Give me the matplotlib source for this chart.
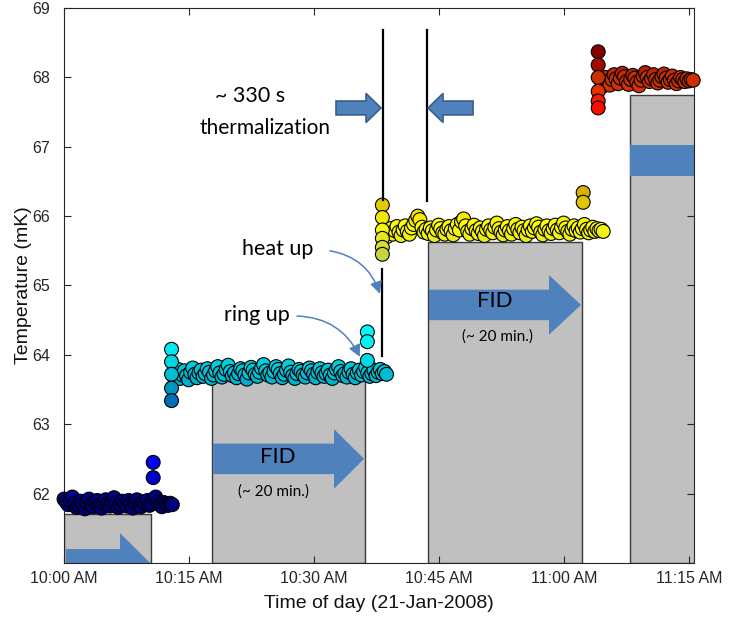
import numpy as np
import matplotlib
matplotlib.use("Agg")
import matplotlib.pyplot as plt
from matplotlib.colors import LinearSegmentedColormap
from matplotlib.patches import FancyArrow, Rectangle

# x in minutes after 10:00 AM, temperatures in mK
tick_minutes = [0, 15, 30, 45, 60, 75]
tick_labels = ['10:00 AM', '10:15 AM', '10:30 AM', '10:45 AM', '11:00 AM', '11:15 AM']
y_ticks = [62, 63, 64, 65, 66, 67, 68, 69]

# FID / waiting windows (grey blocks): start, end, top
block_start = [0.0, 17.76, 43.7, 67.9]
block_end = [10.44, 36.1, 62.2, 80.0]
block_top = [61.71, 63.67, 65.62, 67.75]

# logged temperature, one reading every 15 s
sample_step = 0.25

seg1_start = 0.0
seg1 = [61.92, 61.88, 61.84, 61.90, 61.95, 61.86, 61.80, 61.83, 61.89, 61.85,
        61.78, 61.87, 61.92, 61.84, 61.81, 61.88, 61.90, 61.83, 61.79, 61.86,
        61.91, 61.85, 61.82, 61.88, 61.94, 61.87, 61.80, 61.84, 61.89, 61.86,
        61.82, 61.90, 61.85, 61.79, 61.87, 61.91, 61.84, 61.81, 61.88, 61.85,
        61.90, 61.83, 61.86, 61.92, 61.95, 61.88, 61.84, 61.81, 61.87, 61.85,
        61.83, 61.86, 61.84]

seg2_start = 13.2
seg2 = [63.68, 63.74, 63.79, 63.66, 63.71, 63.77, 63.70, 63.64, 63.75, 63.81,
        63.72, 63.67, 63.74, 63.78, 63.69, 63.73, 63.80, 63.75, 63.66, 63.71,
        63.77, 63.83, 63.74, 63.68, 63.72, 63.79, 63.85, 63.76, 63.70, 63.74,
        63.67, 63.73, 63.80, 63.77, 63.71, 63.65, 63.74, 63.82, 63.78, 63.72,
        63.69, 63.75, 63.81, 63.86, 63.77, 63.71, 63.74, 63.68, 63.76, 63.83,
        63.79, 63.73, 63.67, 63.72, 63.78, 63.84, 63.75, 63.70, 63.66, 63.73,
        63.79, 63.76, 63.71, 63.68, 63.74, 63.81, 63.77, 63.72, 63.67, 63.75,
        63.80, 63.74, 63.69, 63.73, 63.78, 63.71, 63.66, 63.74, 63.79, 63.83,
        63.76, 63.70, 63.73, 63.68, 63.75, 63.80, 63.72, 63.67, 63.74, 63.78,
        63.71, 63.76, 63.82, 63.74, 63.69, 63.73, 63.78, 63.70, 63.75, 63.79,
        63.73, 63.76, 63.72]

seg3_start = 38.7
seg3 = [65.70, 65.76, 65.82, 65.74, 65.79, 65.85, 65.77, 65.72, 65.80, 65.86,
        65.78, 65.74, 65.83, 65.88, 65.94, 66.00, 65.95, 65.84, 65.77, 65.81,
        65.75, 65.83, 65.79, 65.72, 65.80, 65.87, 65.82, 65.76, 65.74, 65.81,
        65.85, 65.79, 65.73, 65.82, 65.88, 65.80, 65.92, 65.96, 65.86, 65.78,
        65.74, 65.82, 65.87, 65.79, 65.75, 65.83, 65.78, 65.72, 65.81, 65.86,
        65.80, 65.76, 65.84, 65.90, 65.82, 65.77, 65.73, 65.80, 65.85, 65.79,
        65.74, 65.82, 65.88, 65.81, 65.76, 65.84, 65.79, 65.72, 65.80, 65.86,
        65.78, 65.83, 65.89, 65.84, 65.77, 65.73, 65.81, 65.86, 65.79, 65.75,
        65.82, 65.87, 65.80, 65.76, 65.84, 65.90, 65.83, 65.78, 65.74, 65.81,
        65.86, 65.79, 65.83, 65.77, 65.82, 65.88, 65.81, 65.76, 65.80, 65.84,
        65.78, 65.82, 65.79, 65.81, 65.78]

seg4_start = 64.5
seg4 = [67.86, 67.92, 68.00, 67.95, 67.89, 67.97, 68.04, 67.98, 67.91, 67.99,
        68.06, 68.01, 67.94, 67.90, 67.97, 68.03, 67.99, 67.93, 67.88, 67.96,
        68.02, 68.07, 68.00, 67.94, 67.98, 68.04, 67.97, 67.92, 67.96, 68.01,
        68.05, 67.99, 67.93, 67.97, 68.02, 67.96, 67.91, 67.95, 68.00, 67.97,
        67.94, 67.98, 67.95, 67.97, 67.96]

# isolated readings (settling after each step, ring up spikes)
spike_t = [10.7, 10.7,
           12.9, 12.9, 12.9, 12.9, 12.9,
           36.4, 36.4, 36.4,
           38.2, 38.2, 38.2, 38.2, 38.2, 38.2,
           62.3, 62.3,
           64.1, 64.1, 64.1, 64.1, 64.1, 64.1]
spike_T = [62.45, 62.23,
           64.08, 63.90, 63.72, 63.52, 63.34,
           64.33, 64.19, 63.92,
           66.16, 65.98, 65.80, 65.68, 65.55, 65.45,
           66.34, 66.20,
           68.37, 68.18, 68.00, 67.80, 67.66, 67.56]

# colour stops of the temperature colour scale
cmap_T = [61.7, 62.0, 62.5, 63.3, 63.75, 64.1, 64.4, 65.4, 65.7, 65.85, 66.3,
          67.55, 67.8, 68.0, 68.2, 68.45]
cmap_c = ['#000060', '#000098', '#0000ff', '#0068b0', '#00c4d8', '#00ecf0',
          '#00ffff', '#c0d040', '#e8e820', '#ffff00', '#d8b400',
          '#ff0800', '#e83000', '#c83000', '#a00800', '#780000']

y_lo, y_hi = 61.0, 69.0
x_lo, x_hi = 0.0, 75.6

vmin, vmax = cmap_T[0], cmap_T[-1]
cmap = LinearSegmentedColormap.from_list(
    'temp', [((t - vmin) / (vmax - vmin), c) for t, c in zip(cmap_T, cmap_c)])

fig = plt.figure(figsize=(7.3, 6.22), dpi=100)
ax = fig.add_axes([0.0877, 0.095, 0.863, 0.892])

# grey blocks
for s, e, top in zip(block_start, block_end, block_top):
    ax.bar(s, top - y_lo, width=e - s, bottom=y_lo, align='edge',
           color='#c0c0c0', edgecolor='#3a3a3a', linewidth=1.0, zorder=1)

# blue block arrows inside the blocks
blue = '#4f81bd'
ax.add_patch(FancyArrow(0.24, y_lo, 10.08, 0, width=0.40, head_width=0.86,
                        head_length=3.6, length_includes_head=True,
                        color=blue, lw=0, zorder=2))
ax.add_patch(FancyArrow(17.9, 62.50, 18.1, 0, width=0.44, head_width=0.86,
                        head_length=3.6, length_includes_head=True,
                        color=blue, lw=0, zorder=2))
ax.add_patch(FancyArrow(43.8, 64.72, 18.24, 0, width=0.44, head_width=0.86,
                        head_length=3.84, length_includes_head=True,
                        color=blue, lw=0, zorder=2))
ax.add_patch(Rectangle((67.9, 66.58), 12, 0.45, color=blue, lw=0, zorder=2))

# data points
for start, vals in [(seg1_start, seg1), (seg2_start, seg2),
                    (seg3_start, seg3), (seg4_start, seg4)]:
    t = start + sample_step * np.arange(len(vals))
    ax.scatter(t, vals, c=vals, cmap=cmap, vmin=vmin, vmax=vmax, s=100,
               edgecolors='black', linewidths=0.8, zorder=4, clip_on=False)
ax.scatter(spike_t, spike_T, c=spike_T, cmap=cmap, vmin=vmin, vmax=vmax, s=100,
           edgecolors='black', linewidths=0.8, zorder=5, clip_on=False)

# thermalization markers
ax.plot([38.28, 38.28], [68.69, 66.24], color='black', lw=1.6, zorder=6)
ax.plot([38.2, 38.2], [65.24, 63.99], color='black', lw=1.6, zorder=6)
ax.plot([43.56, 43.56], [68.69, 66.22], color='black', lw=1.6, zorder=6)
ax.add_patch(FancyArrow(32.64, 67.56, 5.4, 0, width=0.20, head_width=0.42,
                        head_length=1.8, length_includes_head=True,
                        fc=blue, ec='#385d8a', lw=1.2, zorder=6))
ax.add_patch(FancyArrow(49.08, 67.56, -5.4, 0, width=0.20, head_width=0.42,
                        head_length=1.8, length_includes_head=True,
                        fc=blue, ec='#385d8a', lw=1.2, zorder=6))

note_font = ['Lato', 'DejaVu Sans']
ax.text(22.3, 67.73, '~ 330 s', ha='center', va='center', fontsize=15.5, family=note_font)
ax.text(24.1, 67.27, 'thermalization', ha='center', va='center', fontsize=15, family=note_font)
ax.text(25.6, 65.52, 'heat up', ha='center', va='center', fontsize=15.5, family=note_font)
ax.text(23.2, 64.58, 'ring up', ha='center', va='center', fontsize=15.5, family=note_font)
ax.text(25.7, 62.52, 'FID', ha='center', va='center', fontsize=16, family=note_font, zorder=3)
ax.text(25.1, 62.03, '(~ 20 min.)', ha='center', va='center', fontsize=11, family=note_font, zorder=3)
ax.text(51.7, 64.77, 'FID', ha='center', va='center', fontsize=16, family=note_font, zorder=3)
ax.text(52.0, 64.26, '(~ 20 min.)', ha='center', va='center', fontsize=11, family=note_font, zorder=3)

ax.annotate('', xy=(37.9, 64.88), xytext=(31.9, 65.50),
            arrowprops=dict(arrowstyle='-|>', color=blue, lw=1.1,
                            mutation_scale=18, shrinkA=0, shrinkB=0,
                            connectionstyle='arc3,rad=-0.3'), zorder=6)
ax.annotate('', xy=(35.5, 63.97), xytext=(27.96, 64.56),
            arrowprops=dict(arrowstyle='-|>', color=blue, lw=1.1,
                            mutation_scale=18, shrinkA=0, shrinkB=0,
                            connectionstyle='arc3,rad=-0.3'), zorder=6)

ax.set_xlim(x_lo, x_hi)
ax.set_ylim(y_lo, y_hi)
ax.set_xticks(tick_minutes)
ax.set_xticklabels(tick_labels)
ax.set_yticks(y_ticks)

axis_font = ['Liberation Sans', 'DejaVu Sans']
for lbl in ax.get_xticklabels() + ax.get_yticklabels():
    lbl.set_family(axis_font)
    lbl.set_fontsize(11.5)
    lbl.set_color('#262626')
ax.tick_params(direction='in', length=5, width=0.8, top=True, right=True,
               colors='#262626')
ax.tick_params(axis='x', pad=6)
ax.tick_params(axis='y', pad=10)
ax.set_xlabel('Time of day (21-Jan-2008)', fontsize=14, family=axis_font,
              color='#111111', labelpad=6)
ax.set_ylabel('Temperature (mK)', fontsize=14, family=axis_font,
              color='#111111', labelpad=0)
for sp in ax.spines.values():
    sp.set_color('#262626')
    sp.set_linewidth(0.8)

fig.savefig('out.png', dpi=100)
